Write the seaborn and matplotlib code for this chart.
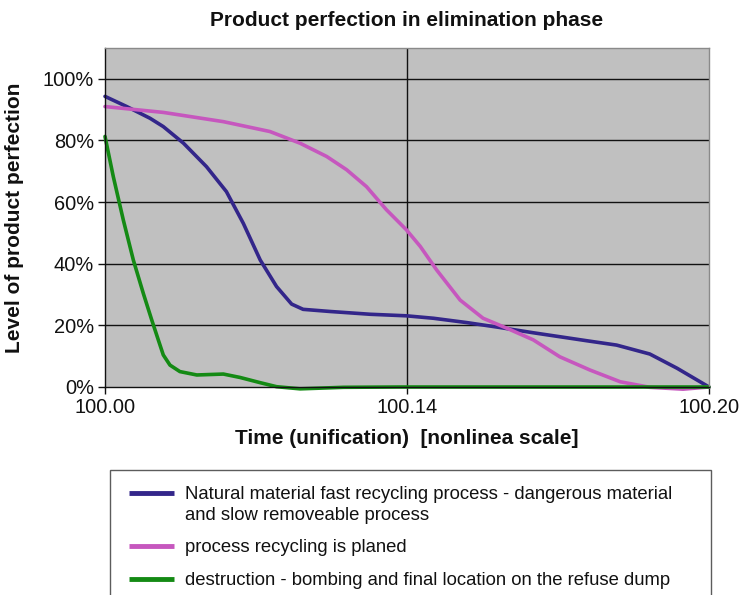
import matplotlib
matplotlib.use("Agg")
import matplotlib.pyplot as plt
import seaborn as sns
import pandas as pd
from matplotlib.lines import Line2D
from matplotlib.legend_handler import HandlerLine2D

# ---- data (x as position on the nonlinear time axis: 0 = 100.00, 0.5 = 100.14, 1 = 100.20)
blue_x = [0.0, 0.036, 0.0745, 0.0965, 0.130, 0.168, 0.201, 0.229, 0.257, 0.284, 0.309, 0.328,
          0.373, 0.439, 0.499, 0.544, 0.599, 0.654, 0.709, 0.798, 0.847, 0.902, 0.947, 1.0]
blue_y = [94.3, 91.0, 87.2, 84.5, 79.1, 71.5, 63.4, 53.1, 41.2, 32.6, 26.9, 25.2,
          24.5, 23.6, 23.1, 22.3, 20.9, 19.3, 17.6, 15.0, 13.6, 10.7, 6.1, 0.0]

pink_x = [0.0, 0.0965, 0.196, 0.273, 0.323, 0.367, 0.400, 0.433, 0.466, 0.499, 0.522, 0.549,
          0.588, 0.626, 0.665, 0.709, 0.753, 0.803, 0.853, 0.902, 0.957, 1.0]
pink_y = [91.0, 89.1, 86.1, 82.9, 79.1, 74.8, 70.5, 65.0, 57.5, 51.0, 45.6, 38.0,
          28.2, 22.3, 19.1, 15.3, 9.8, 5.5, 1.7, -0.1, -0.7, 0.0]

green_x = [0.0, 0.0137, 0.0303, 0.0469, 0.0634, 0.0773, 0.0882, 0.0965, 0.1076, 0.124, 0.152,
           0.196, 0.2235, 0.257, 0.284, 0.323, 0.395, 0.488, 1.0]
green_y = [81.3, 68.3, 54.2, 41.2, 30.4, 21.8, 15.3, 10.4, 7.1, 5.0, 3.9,
           4.2, 3.1, 1.4, 0.1, -0.6, -0.1, 0.0, 0.0]

series_names = [
    "Natural material fast recycling process - dangerous material\nand slow removeable process",
    "process recycling is planed",
    "destruction - bombing and final location on the refuse dump",
]
series_colors = ["#33268A", "#C657BE", "#148A14"]
x_tick_pos = [0.0, 0.5, 1.0]
x_tick_labels = ["100.00", "100.14", "100.20"]
y_ticks = [0, 20, 40, 60, 80, 100]
y_tick_labels = ["0%", "20%", "40%", "60%", "80%", "100%"]

frames = []
for name, xs, ys in zip(series_names, [blue_x, pink_x, green_x], [blue_y, pink_y, green_y]):
    frames.append(pd.DataFrame({"x": xs, "y": ys, "series": name}))
df = pd.concat(frames, ignore_index=True)

sns.set_theme(style="white")
plt.rcParams["font.family"] = ["Liberation Sans", "DejaVu Sans"]

W, H = 741, 595
fig = plt.figure(figsize=(W / 100, H / 100), dpi=100)
ax = fig.add_axes([105 / W, 1 - 387 / H, 604 / W, 339 / H])
ax.set_facecolor("#C0C0C0")

sns.lineplot(data=df, x="x", y="y", hue="series", hue_order=series_names,
             palette=series_colors, sort=False, estimator=None, linewidth=2.6,
             ax=ax, legend=False)
for ln in ax.get_lines():
    ln.set_clip_on(False)
    ln.set_solid_joinstyle("round")

ax.set_xlim(0, 1)
ax.set_ylim(0, 110)
for yv in y_ticks[1:]:
    ax.axhline(yv, color="#111111", linewidth=1.0, zorder=1)
ax.axvline(0.5, color="#111111", linewidth=1.0, zorder=1)

ax.set_xticks(x_tick_pos)
ax.set_xticklabels(x_tick_labels, fontsize=14.4, color="#111111")
ax.set_yticks(y_ticks)
ax.set_yticklabels(y_tick_labels, fontsize=14.4, color="#111111")
ax.tick_params(axis="both", direction="out", length=5, width=1, color="#111111",
               bottom=True, left=True, pad=3)
ax.set_xlabel("")
ax.set_ylabel("")

for side in ["top", "right"]:
    ax.spines[side].set_color("#8a8a8a")
    ax.spines[side].set_linewidth(1.0)
for side in ["left", "bottom"]:
    ax.spines[side].set_color("#111111")
    ax.spines[side].set_linewidth(1.0)

fig.text(407 / W, 1 - 20 / H, "Product perfection in elimination phase",
         ha="center", va="center", fontsize=15, fontweight="bold", color="#111111")
fig.text(407 / W, 1 - 438 / H, "Time (unification)  [nonlinea scale]",
         ha="center", va="center", fontsize=15, fontweight="bold", color="#111111")
fig.text(15 / W, 1 - 218 / H, "Level of product perfection", rotation=90,
         ha="center", va="center", fontsize=15, fontweight="bold", color="#111111")


class ShiftedLineHandler(HandlerLine2D):
    """Shift the legend handle (e.g. next to the first line of a two-line label)."""
    def __init__(self, xshift=0.0, yshift=0.0, **kw):
        super().__init__(**kw)
        self.xshift = xshift
        self.yshift = yshift

    def create_artists(self, legend, orig_handle, xdescent, ydescent, width, height,
                       fontsize, trans):
        arts = super().create_artists(legend, orig_handle, xdescent, ydescent, width,
                                      height, fontsize, trans)
        for a in arts:
            a.set_xdata([x + self.xshift for x in a.get_xdata()])
            a.set_ydata([y + self.yshift for y in a.get_ydata()])
        return arts


handles = [Line2D([], [], color=c, linewidth=3.5, solid_capstyle="butt") for c in series_colors]
fs = 13.3
hmap = {handles[0]: ShiftedLineHandler(xshift=2.16, yshift=fs * 0.62),
        handles[1]: ShiftedLineHandler(xshift=2.16),
        handles[2]: ShiftedLineHandler(xshift=2.16)}
leg = fig.legend(handles, series_names, loc="upper left",
                 bbox_to_anchor=(110 / W, 1 - 470 / H, 601 / W, 0.0), mode="expand",
                 fontsize=fs, frameon=True, fancybox=False, borderpad=0.85,
                 handlelength=2.44, handletextpad=0.79, labelspacing=0.86,
                 borderaxespad=0.0, handler_map=hmap)
leg.get_frame().set_edgecolor("#333333")
leg.get_frame().set_linewidth(1.0)
for t in leg.get_texts():
    t.set_color("#111111")
    t.set_linespacing(1.3)

fig.savefig("out.png", dpi=100)
